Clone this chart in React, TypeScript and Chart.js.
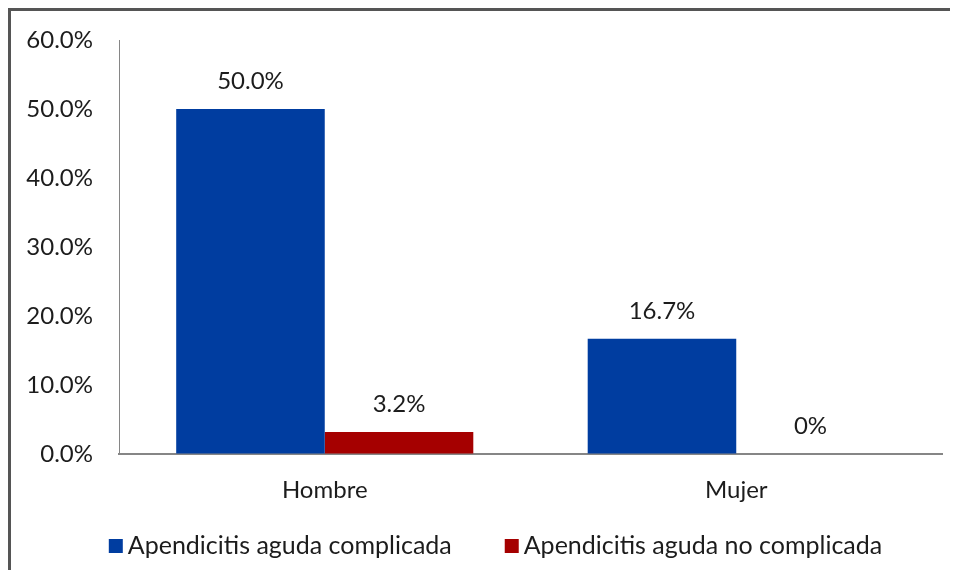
import React, { useEffect, useRef } from "react";
import { Chart, registerables } from "chart.js";

Chart.register(...registerables);

const categories = ["Hombre", "Mujer"];
const seriesNames = ["Apendicitis aguda complicada", "Apendicitis aguda no complicada"];
const complicada = [50.0, 16.7];
const noComplicada = [3.2, 0];
const complicadaLabels = ["50.0%", "16.7%"];
const noComplicadaLabels = ["3.2%", "0%"];
const yTicks = [0, 10, 20, 30, 40, 50, 60];

const FONT = "Lato, 'Open Sans', sans-serif";
const FS = 24;
const LEGEND_FS = 25;
const TEXT = "#1c1c1c";
const BLUE = "#003DA0";
const RED = "#A50000";

const valueLabels = {
  id: "valueLabels",
  afterDatasetsDraw(chart: any) {
    const ctx = chart.ctx;
    const lists = [complicadaLabels, noComplicadaLabels];
    ctx.save();
    ctx.font = `${FS}px ${FONT}`;
    ctx.fillStyle = TEXT;
    ctx.textAlign = "center";
    ctx.textBaseline = "middle";
    chart.data.datasets.forEach((_: any, di: number) => {
      const meta = chart.getDatasetMeta(di);
      meta.data.forEach((el: any, i: number) => {
        ctx.fillText(lists[di][i], el.x, el.y - 28);
      });
    });
    ctx.restore();
  },
};

const customLegend = {
  id: "customLegend",
  afterDraw(chart: any) {
    const ctx = chart.ctx;
    ctx.save();
    ctx.font = `${LEGEND_FS}px ${FONT}`;
    ctx.textBaseline = "middle";
    ctx.textAlign = "left";
    const box = 14;
    const gapText = 5;
    const gapItem = 53;
    const items = chart.data.datasets.map((d: any) => ({
      text: d.label,
      color: d.backgroundColor,
      w: ctx.measureText(d.label).width,
    }));
    const total = items.reduce((s: number, it: any) => s + box + gapText + it.w, 0) + gapItem * (items.length - 1);
    let x = chart.width / 2 + 11 - total / 2;
    const y = chart.height - 24;
    items.forEach((it: any) => {
      ctx.fillStyle = it.color;
      ctx.fillRect(x, y - box / 2, box, box);
      x += box + gapText;
      ctx.fillStyle = TEXT;
      ctx.fillText(it.text, x, y);
      x += it.w + gapItem;
    });
    ctx.restore();
  },
};

export default function App() {
  const ref = useRef<HTMLCanvasElement>(null);
  useEffect(() => {
    if (!ref.current) return;
    const chart = new Chart(ref.current, {
      type: "bar",
      data: {
        labels: categories,
        datasets: [
          { label: seriesNames[0], data: complicada, backgroundColor: BLUE, borderWidth: 0 },
          { label: seriesNames[1], data: noComplicada, backgroundColor: RED, borderWidth: 0 },
        ],
      },
      options: {
        animation: false,
        responsive: false,
        events: [],
        layout: { padding: { top: 29, right: 16, bottom: 45, left: 0 } },
        datasets: { bar: { categoryPercentage: 0.722, barPercentage: 1 } },
        plugins: { legend: { display: false }, tooltip: { enabled: false } },
        scales: {
          x: {
            grid: { display: false, drawTicks: false },
            border: { display: true, color: "#868686", width: 2 },
            ticks: { color: TEXT, font: { family: FONT, size: FS }, padding: 22 },
            afterFit: (s: any) => { s.height = 71; },
          },
          y: {
            min: 0,
            max: 60,
            afterBuildTicks: (s: any) => { s.ticks = yTicks.map((v) => ({ value: v })); },
            grid: {
              display: true,
              drawOnChartArea: false,
              drawTicks: true,
              tickLength: 22,
              tickColor: "rgba(0,0,0,0)",
              color: "rgba(0,0,0,0)",
            },
            border: { display: true, color: "#868686", width: 1 },
            ticks: {
              color: TEXT,
              font: { family: FONT, size: FS },
              padding: 4,
              callback: (v: any) => Number(v).toFixed(1) + "%",
            },
            afterFit: (s: any) => { s.width = 108; },
          },
        },
      },
      plugins: [valueLabels, customLegend],
    });
    return () => chart.destroy();
  }, []);
  return (
    <div
      style={{
        width: 950,
        height: 562,
        boxSizing: "border-box",
        borderLeft: "3px solid #555",
        borderTop: "3px solid #555",
        overflow: "hidden",
        background: "#fff",
      }}
    >
      <canvas ref={ref} width={947} height={559} style={{ display: "block" }} />
    </div>
  );
}
